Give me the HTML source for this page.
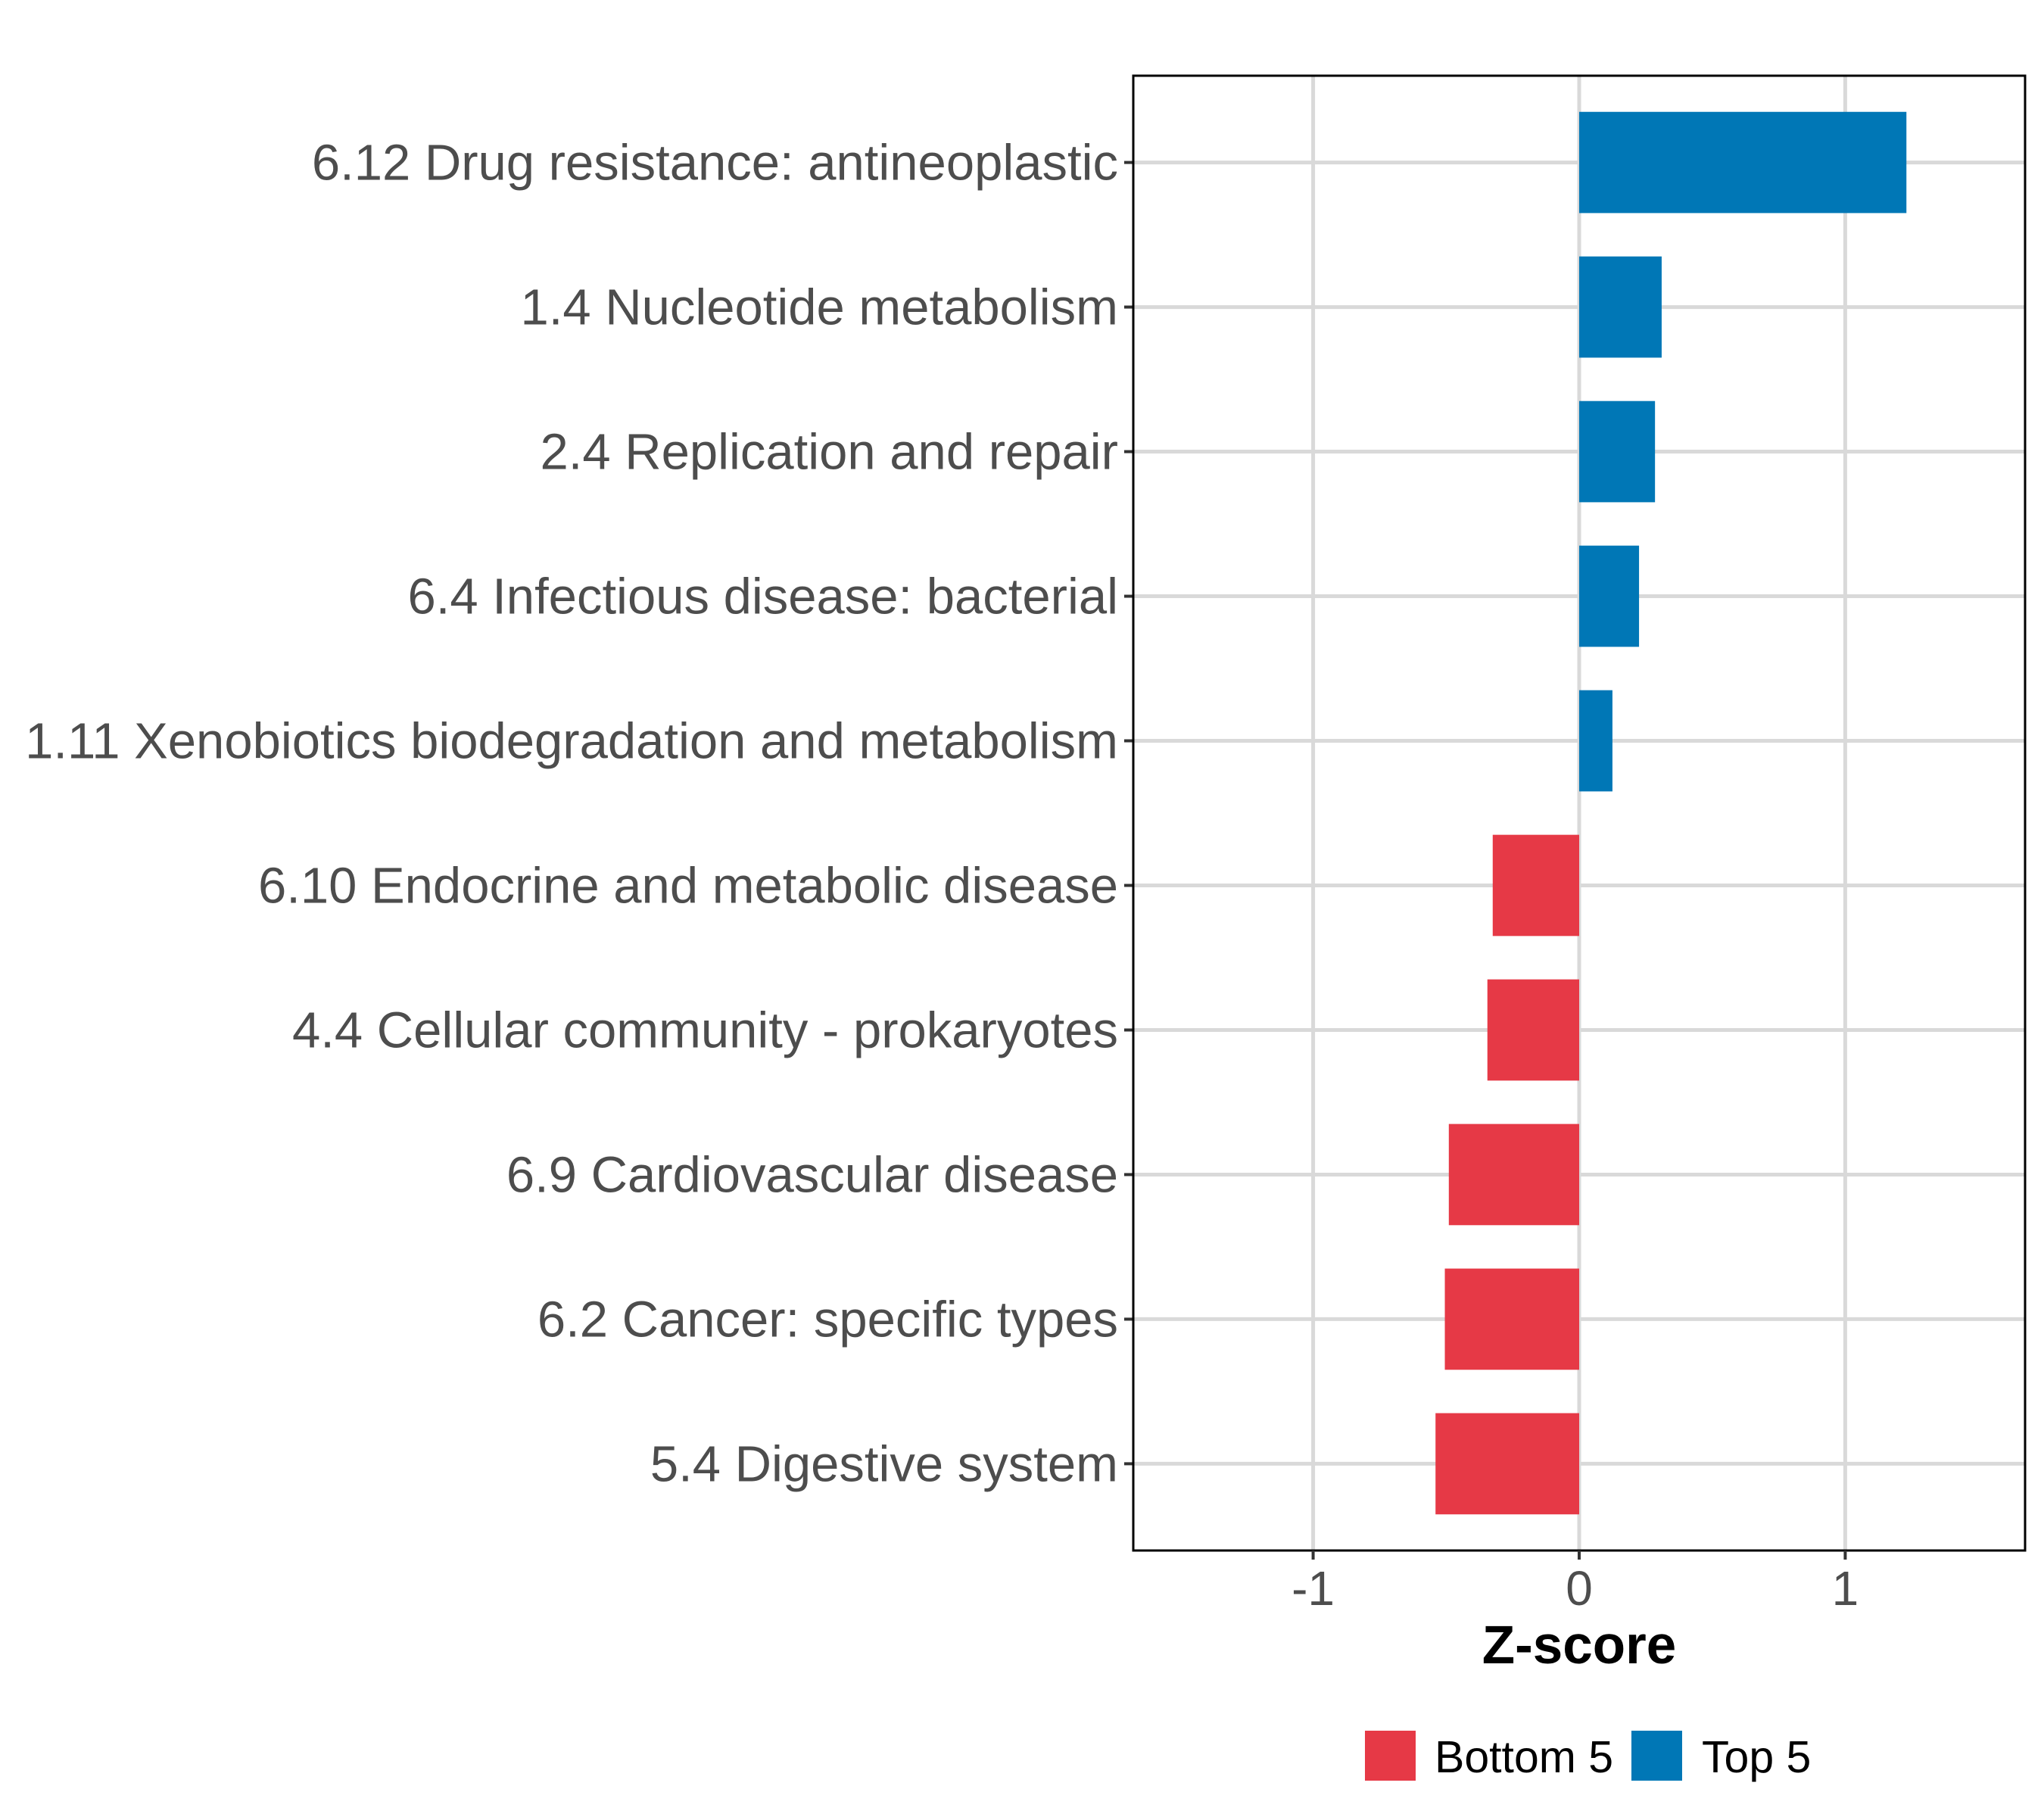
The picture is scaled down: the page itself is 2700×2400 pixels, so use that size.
<!DOCTYPE html>
<html><head><meta charset="utf-8"><style>body{margin:0;background:#fff}svg{display:block}</style></head>
<body>
<svg id="chart" width="2700" height="2400" xmlns="http://www.w3.org/2000/svg" font-family="'Liberation Sans', sans-serif"></svg>
<script>
const categories = ["6.12 Drug resistance: antineoplastic","1.4 Nucleotide metabolism","2.4 Replication and repair","6.4 Infectious disease: bacterial","1.11 Xenobiotics biodegradation and metabolism","6.10 Endocrine and metabolic disease","4.4 Cellular community - prokaryotes","6.9 Cardiovascular disease","6.2 Cancer: specific types","5.4 Digestive system"];
const values = [1.23,0.31,0.285,0.225,0.125,-0.325,-0.345,-0.49,-0.505,-0.54];
const groups = ["Top 5","Top 5","Top 5","Top 5","Top 5","Bottom 5","Bottom 5","Bottom 5","Bottom 5","Bottom 5"];
const xTicks = [-1,0,1];
const xTickLabels = ["-1","0","1"];
const legendLabels = ["Bottom 5","Top 5"];

const colors = {"Bottom 5":"#E63946","Top 5":"#0077B6"};
const P = {l:1497,r:2675,t:100,b:2048};
const xmin=-1.676, xmax=1.676;
const X = v => P.l + (v-xmin)/(xmax-xmin)*(P.r-P.l);
const step = (P.b-P.t)/(categories.length-1+1.2);
const Y = i => P.t + step*(i+0.6);
const svg = document.getElementById('chart');
const NS='http://www.w3.org/2000/svg';
function mk(tag, attrs, parent){const e=document.createElementNS(NS,tag);for(const k in attrs)e.setAttribute(k,attrs[k]);(parent||svg).appendChild(e);return e;}

xTicks.forEach((t,i)=>{
  const g=mk('line',{x1:X(t),x2:X(t),y1:P.t,y2:P.b,stroke:'#d9d9d9','stroke-width':5});
  
  
});
categories.forEach((c,i)=>{
  const g=mk('line',{x1:P.l,x2:P.r,y1:Y(i),y2:Y(i),stroke:'#d9d9d9','stroke-width':5});
  
  
});
categories.forEach((c,i)=>{
  const v=values[i];
  const h=step*0.7;
  const b=mk('rect',{x:Math.min(X(0),X(v)),y:Y(i)-h/2,width:Math.abs(X(v)-X(0)),height:h,fill:colors[groups[i]]});
  
  
  const tk=mk('line',{x1:P.l-12,x2:P.l,y1:Y(i),y2:Y(i),stroke:'#333','stroke-width':4});
  
  
  const t=mk('text',{x:P.l-20,y:Y(i)+23,'text-anchor':'end','font-size':67,fill:'#4d4d4d'});
  t.textContent=c;
  
  
});
const bd=mk('rect',{x:P.l,y:P.t,width:P.r-P.l,height:P.b-P.t,fill:'none',stroke:'#000','stroke-width':3});


xTicks.forEach((t,i)=>{
  const tk=mk('line',{x1:X(t),x2:X(t),y1:P.b,y2:P.b+12,stroke:'#333','stroke-width':4});
  
  
  const l=mk('text',{x:X(t),y:2120,'text-anchor':'middle','font-size':64,fill:'#4d4d4d'});
  l.textContent=xTickLabels[i];
  
  
});
const xt=mk('text',{x:X(0),y:2197,'text-anchor':'middle','font-size':71,'font-weight':'bold',fill:'#000'});
xt.textContent='Z-score';


const lx=[1803,2155], tx=[1895,2248];
legendLabels.forEach((g,i)=>{
  const r=mk('rect',{x:lx[i],y:2286,width:67,height:66,fill:colors[g]});
  
  
  const t=mk('text',{x:tx[i],y:2341,'font-size':59,fill:'#000'});
  t.textContent=g;
  
  
});
</script>
</body></html>
